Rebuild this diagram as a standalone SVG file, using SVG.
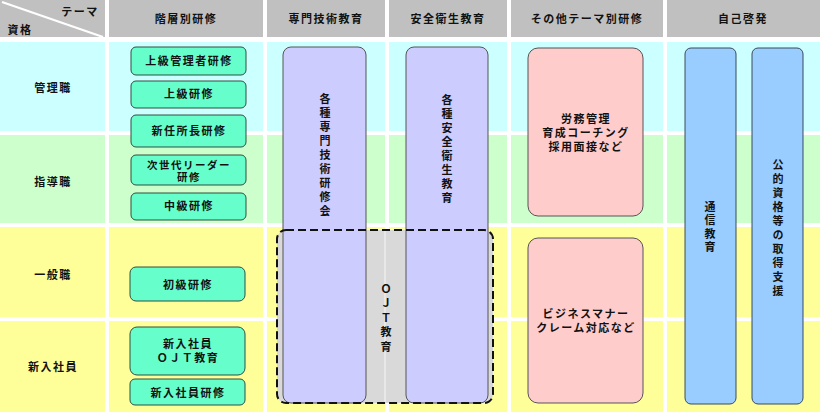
<svg xmlns="http://www.w3.org/2000/svg" width="820" height="412" viewBox="0 0 820 412">
<style>
text{font-family:"Noto Sans CJK JP","Noto Sans",sans-serif;font-weight:bold;font-size:11px;fill:#111;text-anchor:middle;letter-spacing:1.5px}
.hd{fill:#c0c0c0}
.r1{fill:#ccffff}.r2{fill:#ccffcc}.r3{fill:#ffff99}
.g{fill:#66ffcc;stroke:#2f4f3f;stroke-width:1}
.p{fill:#ccccff;stroke:#555;stroke-width:1}
.k{fill:#ffcccc;stroke:#555;stroke-width:1}
.b{fill:#99ccff;stroke:#3a4a5a;stroke-width:1}
.v{writing-mode:vertical-rl;text-anchor:start;letter-spacing:3px}
.m{font-size:10.5px}
</style>
<rect width="820" height="412" fill="#fff"/>
<g id="grid">
<rect class="hd" x="0" y="0" width="105" height="37"/>
<rect class="hd" x="109" y="0" width="154" height="37"/>
<rect class="hd" x="267" y="0" width="118" height="37"/>
<rect class="hd" x="389" y="0" width="118" height="37"/>
<rect class="hd" x="511" y="0" width="152" height="37"/>
<rect class="hd" x="667" y="0" width="153" height="37"/>
<line x1="2" y1="2" x2="103" y2="37" stroke="#fff" stroke-width="2"/>
<g id="row1">
<rect class="r1" x="0" y="42" width="105" height="89"/><rect class="r1" x="109" y="42" width="154" height="89"/><rect class="r1" x="267" y="42" width="118" height="89"/><rect class="r1" x="389" y="42" width="118" height="89"/><rect class="r1" x="511" y="42" width="152" height="89"/><rect class="r1" x="667" y="42" width="153" height="89"/>
</g>
<g id="row2">
<rect class="r2" x="0" y="135" width="105" height="88"/><rect class="r2" x="109" y="135" width="154" height="88"/><rect class="r2" x="267" y="135" width="118" height="88"/><rect class="r2" x="389" y="135" width="118" height="88"/><rect class="r2" x="511" y="135" width="152" height="88"/><rect class="r2" x="667" y="135" width="153" height="88"/>
</g>
<g id="row3">
<rect class="r3" x="0" y="227" width="105" height="90"/><rect class="r3" x="109" y="227" width="154" height="90"/><rect class="r3" x="267" y="227" width="118" height="90"/><rect class="r3" x="389" y="227" width="118" height="90"/><rect class="r3" x="511" y="227" width="152" height="90"/><rect class="r3" x="667" y="227" width="153" height="90"/>
</g>
<g id="row4">
<rect class="r3" x="0" y="321" width="105" height="91"/><rect class="r3" x="109" y="321" width="154" height="91"/><rect class="r3" x="267" y="321" width="118" height="91"/><rect class="r3" x="389" y="321" width="118" height="91"/><rect class="r3" x="511" y="321" width="152" height="91"/><rect class="r3" x="667" y="321" width="153" height="91"/>
</g>
</g>
<g id="headers">
<text x="80" y="16">テーマ</text>
<text x="20" y="34">資格</text>
<text x="186" y="23">階層別研修</text>
<text x="326" y="23">専門技術教育</text>
<text x="448" y="23">安全衛生教育</text>
<text x="587" y="23">その他テーマ別研修</text>
<text x="743" y="23">自己啓発</text>
</g>
<g id="rowlabels">
<text x="53" y="92">管理職</text>
<text x="53" y="186">指導職</text>
<text x="53" y="279">一般職</text>
<text x="53" y="371">新入社員</text>
</g>
<g id="ojt-area">
<rect x="277" y="230" width="216" height="173" rx="9" fill="#d9d9d9"/>
<line x1="385" y1="230" x2="385" y2="403" stroke="#e8e8e8" stroke-width="2"/>
</g>
<g id="senmon">
<rect class="p" x="283" y="47" width="83" height="356" rx="8"/>
<text class="v" x="325" y="93">各種専門技術研修会</text>
</g>
<g id="anzen">
<rect class="p" x="406" y="47" width="82" height="356" rx="8"/>
<text class="v" x="447" y="94">各種安全衛生教育</text>
</g>
<g id="ojt">
<rect x="277" y="230" width="216" height="173" rx="9" fill="none" stroke="#111" stroke-width="2" stroke-dasharray="8,4"/>
<text class="v" x="386" y="283" style="letter-spacing:3.5px">ＯＪＴ教育</text>
</g>
<g id="kaiso">
<g id="n-jokyukanri"><rect class="g" x="131" y="47" width="115" height="28" rx="5"/><text x="189" y="65">上級管理者研修</text></g>
<g id="n-jokyu"><rect class="g" x="131" y="81" width="115" height="27" rx="5"/><text x="189" y="98">上級研修</text></g>
<g id="n-shinnin"><rect class="g" x="131" y="115" width="115" height="32" rx="5"/><text x="189" y="135">新任所長研修</text></g>
<g id="n-jisedai"><rect class="g" x="131" y="155" width="115" height="30" rx="5"/><text class="m" x="189" y="169">次世代リーダー<tspan x="189" dy="12">研修</tspan></text></g>
<g id="n-chukyu"><rect class="g" x="131" y="193" width="115" height="27" rx="5"/><text x="189" y="210">中級研修</text></g>
<g id="n-shokyu"><rect class="g" x="130" y="267" width="115" height="34" rx="6"/><text x="188" y="289">初級研修</text></g>
<g id="n-ojt"><rect class="g" x="130" y="327" width="115" height="48" rx="7"/><text x="188" y="348">新入社員<tspan x="188" dy="14">ＯＪＴ教育</tspan></text></g>
<g id="n-shinnyu"><rect class="g" x="130" y="379" width="115" height="26" rx="5"/><text x="188" y="397">新入社員研修</text></g>
</g>
<g id="sonota">
<g id="n-romu"><rect class="k" x="528" y="48" width="115" height="168" rx="10"/><text x="586" y="123">労務管理<tspan x="586" dy="14">育成コーチング</tspan><tspan x="586" dy="14">採用面接など</tspan></text></g>
<g id="n-business"><rect class="k" x="528" y="238" width="115" height="165" rx="10"/><text x="586" y="318">ビジネスマナー<tspan x="586" dy="14">クレーム対応など</tspan></text></g>
</g>
<g id="jiko">
<g id="n-tsushin"><rect class="b" x="685" y="48" width="51" height="356" rx="6"/>
<text class="v" x="710" y="201" style="letter-spacing:2.5px">通信教育</text></g>
<g id="n-shikaku"><rect class="b" x="752" y="48" width="51" height="356" rx="6"/>
<text class="v" x="778" y="159">公的資格等の取得支援</text></g>
</g>
</svg>
